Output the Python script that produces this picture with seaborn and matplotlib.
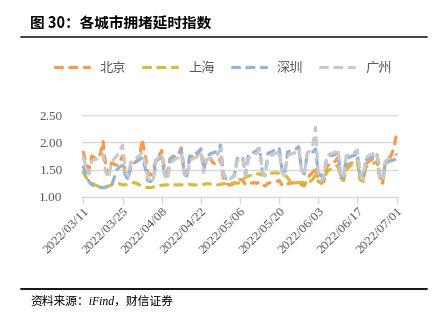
import numpy as np
import pandas as pd
import matplotlib
matplotlib.use("Agg")
import matplotlib.pyplot as plt
import matplotlib.dates as mdates
import seaborn as sns

# Daily congestion delay index, 2022/03/11 - 2022/07/01
start_date = "2022-03-11"
end_date = "2022-07-01"

beijing = [
    1.82, 1.60, 1.50, 1.75, 1.72, 1.70, 1.78, 2.02, 1.55, 1.42,
    1.62, 1.60, 1.58, 1.65, 1.75, 1.40, 1.35, 1.55, 1.62, 1.65,
    1.70, 2.05, 1.80, 1.45, 1.40, 1.45, 1.72, 1.75, 1.85, 1.50,
    1.42, 1.70, 1.72, 1.75, 1.78, 1.90, 1.50, 1.42, 1.70, 1.75,
    1.72, 1.80, 1.88, 1.52, 1.70, 1.75, 1.65, 1.60, 1.62, 1.70,
    1.35, 1.25, 1.22, 1.22, 1.25, 1.30, 1.32, 1.30, 1.22, 1.25,
    1.25, 1.26, 1.25, 1.27, 1.22, 1.20, 1.25, 1.26, 1.27, 1.28,
    1.30, 1.22, 1.20, 1.24, 1.25, 1.26, 1.25, 1.27, 1.22, 1.20,
    1.32, 1.40, 1.45, 1.55, 1.30, 1.25, 1.28, 1.55, 1.60, 1.62,
    1.65, 1.72, 1.35, 1.30, 1.55, 1.60, 1.62, 1.65, 1.70, 1.32,
    1.28, 1.60, 1.65, 1.68, 1.70, 1.78, 1.35, 1.25, 1.65, 1.72,
    1.75, 1.90, 2.15,
]

shanghai = [
    1.45, 1.35, 1.28, 1.25, 1.22, 1.20, 1.19, 1.18, 1.18, 1.20,
    1.22, 1.24, 1.25, 1.24, 1.22, 1.22, 1.23, 1.25, 1.26, 1.25,
    1.22, 1.20, 1.18, 1.17, 1.17, 1.18, 1.20, 1.21, 1.21, 1.22,
    1.22, 1.23, 1.23, 1.22, 1.22, 1.22, 1.23, 1.24, 1.23, 1.22,
    1.22, 1.22, 1.23, 1.23, 1.24, 1.24, 1.23, 1.22, 1.22, 1.23,
    1.24, 1.25, 1.24, 1.25, 1.26, 1.25, 1.26, 1.32, 1.36, 1.38,
    1.40, 1.41, 1.42, 1.42, 1.40, 1.40, 1.42, 1.43, 1.44, 1.44,
    1.43, 1.42, 1.40, 1.35, 1.28, 1.27, 1.26, 1.26, 1.27, 1.26,
    1.25, 1.28, 1.32, 1.40, 1.28, 1.25, 1.30, 1.45, 1.50, 1.52,
    1.55, 1.58, 1.35, 1.30, 1.50, 1.55, 1.58, 1.60, 1.62, 1.32,
    1.28, 1.55, 1.58, 1.60, 1.62, 1.65, 1.35, 1.28, 1.60, 1.65,
    1.68, 1.70, 1.72,
]

shenzhen = [
    1.55, 1.40, 1.28, 1.22, 1.20, 1.18, 1.17, 1.17, 1.18, 1.18,
    1.20, 1.35, 1.50, 1.55, 1.58, 1.40, 1.32, 1.60, 1.62, 1.65,
    1.68, 1.72, 1.55, 1.30, 1.28, 1.32, 1.65, 1.70, 1.72, 1.42,
    1.35, 1.70, 1.75, 1.78, 1.80, 1.85, 1.45, 1.38, 1.75, 1.78,
    1.80, 1.82, 1.88, 1.50, 1.72, 1.78, 1.80, 1.82, 1.85, 1.95,
    1.45, 1.32, 1.30, 1.35, 1.40, 1.70, 1.75, 1.72, 1.40, 1.78,
    1.80, 1.82, 1.85, 1.90, 1.45, 1.40, 1.80, 1.82, 1.85, 1.86,
    1.90, 1.50, 1.42, 1.82, 1.85, 1.86, 1.88, 1.92, 1.50, 1.42,
    1.78, 1.80, 1.82, 1.88, 1.45, 1.38, 1.40, 1.72, 1.75, 1.76,
    1.78, 1.82, 1.40, 1.35, 1.70, 1.72, 1.75, 1.76, 1.80, 1.38,
    1.32, 1.68, 1.70, 1.72, 1.74, 1.78, 1.40, 1.32, 1.62, 1.65,
    1.66, 1.68, 1.70,
]

guangzhou = [
    1.72, 1.55, 1.42, 1.65, 1.68, 1.70, 1.72, 1.78, 1.45, 1.35,
    1.62, 1.70, 1.75, 1.85, 1.95, 1.50, 1.38, 1.65, 1.70, 1.72,
    1.75, 1.82, 1.65, 1.35, 1.28, 1.32, 1.68, 1.72, 1.78, 1.40,
    1.32, 1.60, 1.66, 1.70, 1.72, 1.80, 1.42, 1.35, 1.65, 1.70,
    1.72, 1.75, 1.82, 1.45, 1.68, 1.70, 1.72, 1.75, 1.78, 1.88,
    1.42, 1.32, 1.30, 1.35, 1.38, 1.65, 1.72, 1.70, 1.38, 1.70,
    1.75, 1.78, 1.80, 1.88, 1.45, 1.38, 1.72, 1.76, 1.78, 1.80,
    1.85, 1.45, 1.38, 1.75, 1.78, 1.80, 1.82, 1.88, 1.48, 1.40,
    1.80, 1.85, 1.95, 2.28, 1.40, 1.30, 1.35, 1.75, 1.78, 1.80,
    1.82, 1.88, 1.42, 1.35, 1.75, 1.78, 1.80, 1.82, 1.86, 1.40,
    1.32, 1.72, 1.75, 1.78, 1.80, 1.82, 1.38, 1.30, 1.65, 1.70,
    1.72, 1.75, 1.78,
]

cities = ["北京", "上海", "深圳", "广州"]
colors = ["#F79A4C", "#D5BC3C", "#93B3DB", "#C9C9C9"]
yticks = [1.00, 1.50, 2.00, 2.50]

dates = pd.date_range(start_date, end_date, freq="D")
df = pd.concat(
    [pd.DataFrame({"date": dates, "value": v, "city": c})
     for c, v in zip(cities, [beijing, shanghai, shenzhen, guangzhou])],
    ignore_index=True,
)

sns.set_theme(style="white")
plt.rcParams["font.family"] = ["Liberation Serif", "Noto Sans CJK SC"]
plt.rcParams["lines.dash_capstyle"] = "round"
plt.rcParams["lines.solid_capstyle"] = "round"

fig = plt.figure(figsize=(4.34, 3.27), dpi=100)
ax = fig.add_axes([0.189, 0.398, 0.728, 0.250])

sns.lineplot(
    data=df, x="date", y="value", hue="city", style="city",
    hue_order=cities, style_order=cities,
    palette=dict(zip(cities, colors)),
    dashes={c: (2.2, 2.3) for c in cities},
    linewidth=2.3, ax=ax, legend=True,
)

ax.set_ylim(1.0, 2.5)
ax.set_yticks(yticks)
ax.set_yticklabels([f"{t:.2f}" for t in yticks])
ax.set_xlim(pd.Timestamp(start_date) - pd.Timedelta(hours=12),
            pd.Timestamp(end_date) + pd.Timedelta(hours=12))
ax.set_xticks(pd.date_range(start_date, end_date, freq="14D"))
ax.xaxis.set_major_formatter(mdates.DateFormatter("%Y/%m/%d"))
ax.set_xlabel("")
ax.set_ylabel("")

ax.grid(axis="y", color="#D9D9D9", linewidth=1.0)
ax.grid(axis="x", visible=False)
for s in ["left", "right", "top"]:
    ax.spines[s].set_visible(False)
ax.spines["bottom"].set_color("#D9D9D9")
ax.spines["bottom"].set_linewidth(1.0)
ax.tick_params(axis="y", length=0, labelsize=9.5, labelcolor="#595959", pad=14)
ax.tick_params(axis="x", length=5, width=1.0, color="#D9D9D9", direction="out",
               labelsize=9.5, labelcolor="#595959", pad=1, bottom=True)
for lab in ax.get_xticklabels():
    lab.set_rotation(45)
    lab.set_ha("right")
    lab.set_rotation_mode("anchor")

handles, labels = ax.get_legend_handles_labels()
ax.get_legend().remove()
fig.legend(
    handles, labels, loc="center", bbox_to_anchor=(0.514, 0.792), ncol=4,
    frameon=False, handlelength=2.6, handletextpad=0.8, columnspacing=1.3,
    prop={"family": ["Noto Sans CJK SC"], "size": 9.5},
    labelcolor="#595959",
)

# Title, rules and source note
fig.text(0.069, 0.927, "图 30：各城市拥堵延时指数", fontsize=10.5, fontweight="bold",
         family=["Noto Sans CJK SC"], color="#000000", va="center")
fig.add_artist(plt.Line2D([0.048, 0.984], [0.887, 0.887], color="#333333", linewidth=1.3))
fig.add_artist(plt.Line2D([0.048, 0.984], [0.116, 0.116], color="#000000", linewidth=1.3))
fig.text(0.069, 0.079, "资料来源：iFind，财信证券", fontsize=8.5, style="italic",
         family=["Liberation Serif", "Noto Sans CJK SC"], color="#000000", va="center")

fig.savefig("out.png", dpi=100)
